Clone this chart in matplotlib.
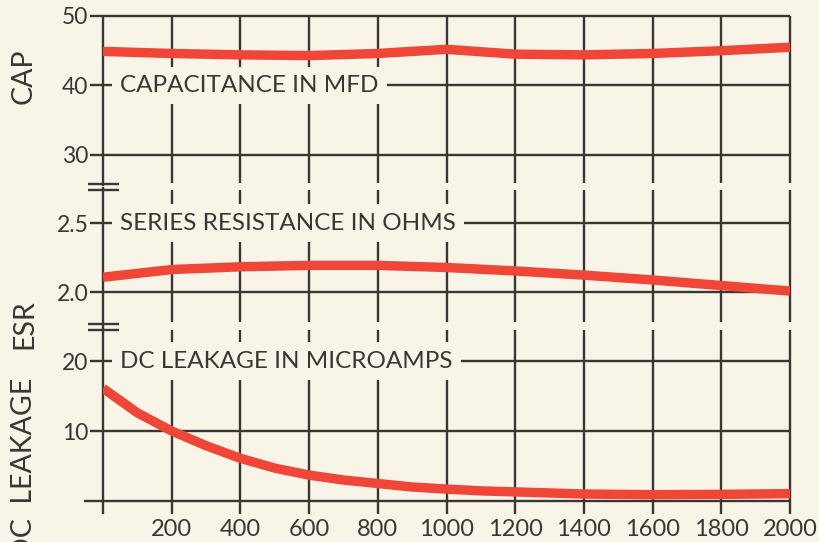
import matplotlib.pyplot as plt
from matplotlib.transforms import blended_transform_factory

plt.rcParams['font.family'] = ['Lato', 'DejaVu Sans']

# frequency (cps) and the three measured characteristics
freq = [0, 200, 400, 600, 800, 1000, 1200, 1400, 1600, 1800, 2000]
cap_mfd = [44.9, 44.6, 44.4, 44.3, 44.6, 45.2, 44.5, 44.4, 44.6, 45.0, 45.5]
esr_ohms = [2.11, 2.165, 2.185, 2.195, 2.195, 2.18, 2.155, 2.125, 2.09, 2.05, 2.01]

leak_freq = [0, 100, 200, 300, 400, 500, 600, 700, 800, 900, 1000, 1100,
             1200, 1400, 1600, 1800, 2000]
leak_ua = [16.1, 12.6, 10.0, 7.9, 6.1, 4.7, 3.7, 3.0, 2.5, 2.0, 1.7, 1.45,
           1.3, 1.0, 0.9, 0.95, 1.05]

xticks = [200, 400, 600, 800, 1000, 1200, 1400, 1600, 1800, 2000]
cap_ticks = [30, 40, 50]
esr_ticks = [2.0, 2.5]
esr_ticklabels = ['2.0', '2.5']
leak_ticks = [10, 20]

BG = '#f8f4e8'
INK = '#3a3634'
RED = '#ef4637'
W, H = 820, 542
GRID_LW = 1.7

fig = plt.figure(figsize=(W / 100, H / 100), dpi=100, facecolor=BG)


def box(top, bottom):
    # pixel rows -> figure rect, same left/right for every panel
    return [103 / W, 1 - bottom / H, 687 / W, (bottom - top) / H]


ax_cap = fig.add_axes(box(16, 186.5))
ax_esr = fig.add_axes(box(186.5, 326.5))
ax_dc = fig.add_axes(box(326.5, 501))

ax_cap.set_ylim(25.43, 50)
ax_esr.set_ylim(1.755, 2.763)
ax_dc.set_ylim(0, 24.93)

for ax in (ax_cap, ax_esr, ax_dc):
    ax.set_xlim(0, 2000)
    ax.patch.set_visible(False)
    for s in ax.spines.values():
        s.set_visible(False)
    ax.tick_params(length=0, colors=INK, labelsize=16.5, pad=10.5)
    ax.set_xticks([])

ax_cap.set_yticks(cap_ticks)
ax_esr.set_yticks(esr_ticks)
ax_esr.set_yticklabels(esr_ticklabels)
ax_dc.set_yticks(leak_ticks)
ax_dc.set_xticks(xticks)
ax_dc.tick_params(axis='x', labelsize=17, pad=13)

line_kw = dict(colors=INK, lw=GRID_LW, clip_on=False, zorder=2)

# capacitance panel
ax_cap.hlines(cap_ticks, -38, 2000, **line_kw)
ax_cap.vlines(xticks, 25.94, 50, **line_kw)
ax_cap.vlines(0, 25.43, 50, **line_kw)

# series resistance panel
ax_esr.hlines(esr_ticks, -38, 2000, **line_kw)
ax_esr.vlines(xticks, 1.788, 2.741, **line_kw)
ax_esr.vlines(0, 1.755, 2.763, **line_kw)

# leakage panel, zero line runs a little further left
ax_dc.hlines(leak_ticks, -38, 2000, **line_kw)
ax_dc.hlines(0, -55, 2000, **line_kw)
ax_dc.vlines(xticks, -1.9, 24.45, **line_kw)
ax_dc.vlines(0, -1.9, 24.93, **line_kw)

# axis break marks on the left axis
brk = blended_transform_factory(ax_esr.transData, fig.transFigure)
for ypx in (184, 190, 323.5, 330):
    ax_esr.plot([-44, 46], [1 - ypx / H] * 2, color=INK, lw=GRID_LW,
                transform=brk, clip_on=False, solid_capstyle='butt')

# curve captions sit on their grid line with a paper-coloured box
cap_box = dict(boxstyle='square,pad=0.34', fc=BG, ec='none')
ax_cap.text(50, 40, 'CAPACITANCE IN MFD', ha='left', va='center',
            fontsize=17.5, color=INK, bbox=cap_box, zorder=4)
ax_esr.text(50, 2.5, 'SERIES RESISTANCE IN OHMS', ha='left', va='center',
            fontsize=17.5, color=INK, bbox=cap_box, zorder=4)
ax_dc.text(50, 20, 'DC LEAKAGE IN MICROAMPS', ha='left', va='center',
           fontsize=17.5, color=INK, bbox=cap_box, zorder=4)

# curves
curve_kw = dict(color=RED, lw=6.8, solid_capstyle='butt',
                solid_joinstyle='round', zorder=5)
ax_cap.plot(freq, cap_mfd, **curve_kw)
ax_esr.plot(freq, esr_ohms, **curve_kw)
ax_dc.plot(leak_freq, leak_ua, **curve_kw)

# rotated panel titles on the far left
fig.text(24 / W, 1 - 76 / H, 'CAP', rotation=90, ha='center', va='center',
         fontsize=20.5, color=INK)
fig.text(24 / W, 1 - 324 / H, 'ESR', rotation=90, ha='center', va='center',
         fontsize=20.5, color=INK)
fig.text(24 / W, 1 - 378 / H, 'DC  LEAKAGE', rotation=90, ha='center',
         va='top', fontsize=20.5, color=INK)

fig.savefig('out.png', dpi=100, facecolor=BG)
